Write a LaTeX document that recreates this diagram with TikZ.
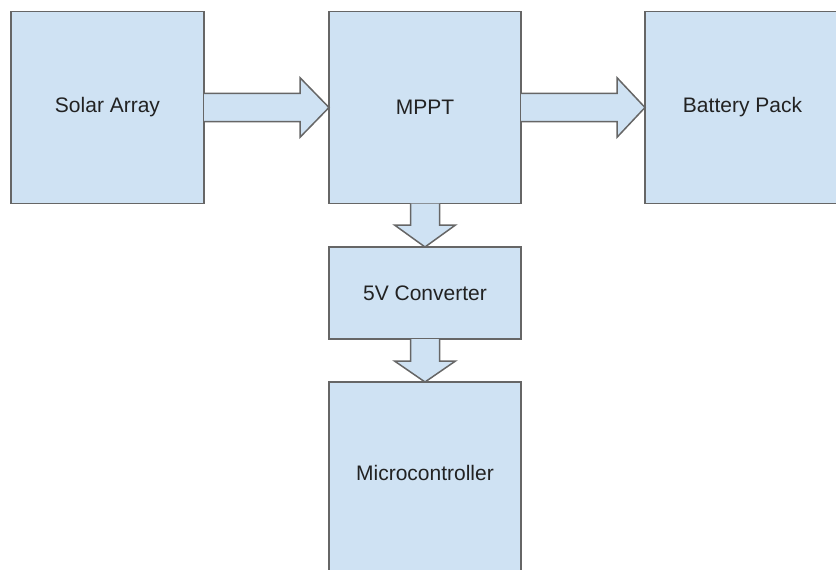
\documentclass[tikz,border=0pt]{standalone}
\usepackage{fontspec}
\setmainfont{Liberation Sans}
\usetikzlibrary{calc}
\definecolor{boxfill}{HTML}{CFE2F3}
\definecolor{boxline}{HTML}{666666}
\definecolor{textcol}{HTML}{222222}
\tikzset{
  block/.style={draw=boxline, fill=boxfill, line width=1.5pt, rectangle,
    inner sep=0pt, outer sep=0pt, text=textcol,
    font=\fontsize{21}{25}\selectfont},
  blocklabel/.style={inner sep=0pt, text=textcol, font=\fontsize{21}{25}\selectfont},
  fatarrow/.style={draw=boxline, fill=boxfill, line width=1.5pt, line join=miter}
}
\begin{document}
\begin{tikzpicture}[x=1pt, y=-1pt]
\useasboundingbox (0,0) rectangle (836,570);

% power path blocks
\node[block, minimum width=193pt, minimum height=192pt] (solar) at (107.5,107.5) {Solar Array};
\node[block, minimum width=192pt, minimum height=192pt] (mppt) at (425,107.5) {MPPT};
\node[block, minimum width=200pt, minimum height=192pt, anchor=west] (battery) at (645,107.5) {};
\node[blocklabel] (batterytext) at (742.5,107.5) {Battery Pack};
\node[block, minimum width=192pt, minimum height=92pt] (conv) at (425,293) {5V Converter};
\node[block, minimum width=192pt, minimum height=208pt, anchor=north] (micro) at (425,382) {};
\node[blocklabel] (microtext) at (425,473) {Microcontroller};

% horizontal block arrows (open at the tail, which sits on the source border)
\filldraw[fatarrow]
  ($(solar.east)+(0,-14.2)$) -- ($(mppt.west)+(-29,-14.2)$) -- ($(mppt.west)+(-29,-29.8)$)
  -- (mppt.west) -- ($(mppt.west)+(-29,29.8)$) -- ($(mppt.west)+(-29,14.2)$)
  -- ($(solar.east)+(0,14.2)$);
\filldraw[fatarrow]
  ($(mppt.east)+(0,-14.2)$) -- ($(battery.west)+(-28,-14.2)$) -- ($(battery.west)+(-28,-29.8)$)
  -- (battery.west) -- ($(battery.west)+(-28,29.8)$) -- ($(battery.west)+(-28,14.2)$)
  -- ($(mppt.east)+(0,14.2)$);

% vertical block arrows
\filldraw[fatarrow]
  ($(mppt.south)+(-14.5,0)$) -- ($(conv.north)+(-14.5,-22)$) -- ($(conv.north)+(-30.5,-22)$)
  -- (conv.north) -- ($(conv.north)+(30.5,-22)$) -- ($(conv.north)+(14.5,-22)$)
  -- ($(mppt.south)+(14.5,0)$);
\filldraw[fatarrow]
  ($(conv.south)+(-14.5,0)$) -- ($(micro.north)+(-14.5,-21)$) -- ($(micro.north)+(-30.5,-21)$)
  -- (micro.north) -- ($(micro.north)+(30.5,-21)$) -- ($(micro.north)+(14.5,-21)$)
  -- ($(conv.south)+(14.5,0)$);
\end{tikzpicture}
\end{document}
